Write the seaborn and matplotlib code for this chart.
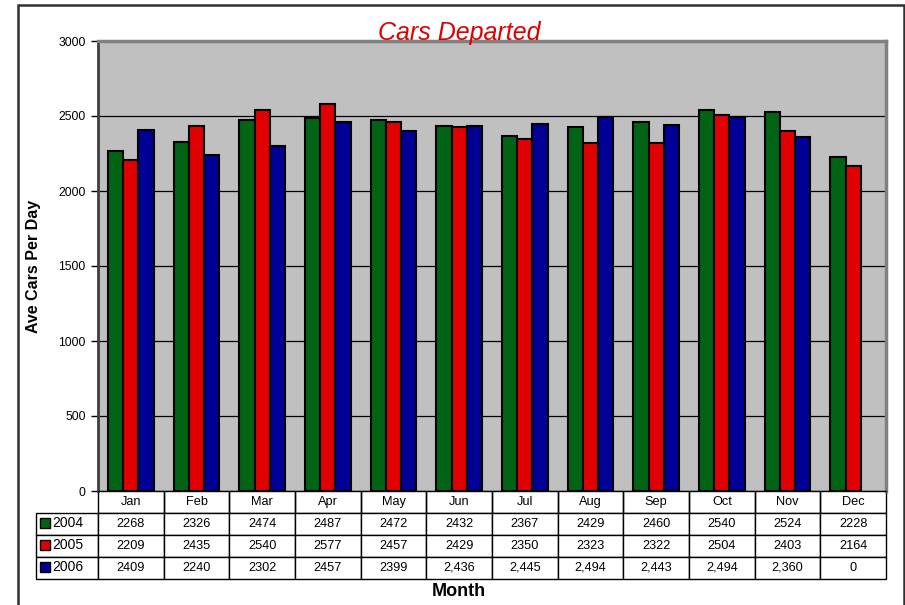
import numpy as np
import pandas as pd
import matplotlib
matplotlib.use('Agg')
import matplotlib.pyplot as plt
import matplotlib.patches as mpatches
import seaborn as sns

months = ['Jan', 'Feb', 'Mar', 'Apr', 'May', 'Jun', 'Jul', 'Aug', 'Sep', 'Oct', 'Nov', 'Dec']
years = ['2004', '2005', '2006']
cars_2004 = [2268, 2326, 2474, 2487, 2472, 2432, 2367, 2429, 2460, 2540, 2524, 2228]
cars_2005 = [2209, 2435, 2540, 2577, 2457, 2429, 2350, 2323, 2322, 2504, 2403, 2164]
cars_2006 = [2409, 2240, 2302, 2457, 2399, 2436, 2445, 2494, 2443, 2494, 2360, 0]
# the 2006 row of the table shows thousands separators for Jun-Nov
labels_2006 = ['2409', '2240', '2302', '2457', '2399', '2,436', '2,445', '2,494',
               '2,443', '2,494', '2,360', '0']
colors = ['#006414', '#e00000', '#000096']

df = pd.DataFrame({
    'Month': months * 3,
    'Year': [y for y in years for _ in months],
    'Cars': cars_2004 + cars_2005 + cars_2006,
})
plot_df = df.copy()
plot_df.loc[plot_df['Cars'] == 0, 'Cars'] = np.nan

sns.set_style('white')
plt.rcParams['font.family'] = ['Liberation Sans', 'DejaVu Sans']
plt.rcParams['text.color'] = 'black'
plt.rcParams['axes.labelcolor'] = 'black'
plt.rcParams['ytick.color'] = 'black'

W, H = 905, 605
fig = plt.figure(figsize=(W / 100, H / 100), dpi=100)
x0, x1, ytop, ybot = 98, 886, 41, 491
ax = fig.add_axes([x0 / W, 1 - ybot / H, (x1 - x0) / W, (ybot - ytop) / H])
ax.set_facecolor('#c0c0c0')

sns.barplot(data=plot_df, x='Month', y='Cars', hue='Year', palette=colors, saturation=1,
            width=0.7, edgecolor='black', linewidth=1.5, legend=False, ax=ax)

ax.set_ylim(0, 3000)
ax.set_xlim(-0.5, 11.5)
ax.set_yticks(range(0, 3001, 500))
ax.yaxis.grid(True, color='black', linewidth=0.9)
ax.set_axisbelow(True)
ax.tick_params(axis='y', length=5, width=1, color='black', labelsize=8.8, pad=4, left=True)
ax.tick_params(axis='x', length=0, labelbottom=False)
ax.set_xlabel('')
ax.set_ylabel('Ave Cars Per Day', fontsize=11.5, fontweight='bold', labelpad=12)
for side in ['top', 'right']:
    ax.spines[side].set_color('#808080')
    ax.spines[side].set_linewidth(2.5)
ax.spines['left'].set_color('#404040')
ax.spines['left'].set_linewidth(2)
ax.spines['bottom'].set_color('black')
ax.spines['bottom'].set_linewidth(1)

# data table under the axis
tleft, tbot = 36, 579
cell_text = [[''] + months,
             [''] + [str(v) for v in cars_2004],
             [''] + [str(v) for v in cars_2005],
             [''] + labels_2006]
col_w = [62] + [(x1 - x0) / 12] * 12
tab = ax.table(cellText=cell_text, colWidths=[w / sum(col_w) for w in col_w],
               cellLoc='center',
               bbox=[(tleft - x0) / (x1 - x0), -(tbot - ybot) / (ybot - ytop),
                     (x1 - tleft) / (x1 - x0), (tbot - ybot) / (ybot - ytop)])
tab.auto_set_font_size(False)
tab.set_fontsize(9.2)
for (r, c), cell in tab.get_celld().items():
    cell.set_linewidth(1)
    cell.set_edgecolor('black')
    cell.set_facecolor('white')
    cell.get_text().set_color('black')
    if r == 0 and c == 0:
        cell.visible_edges = ''
        cell.set_facecolor('none')
    elif r == 0:
        cell.visible_edges = 'LRB'

row_y = [523, 545, 567]
for yr, col, yp in zip(years, colors, row_y):
    yf = -(yp - ybot) / (ybot - ytop)
    ax.add_patch(mpatches.Rectangle(((40 - x0) / (x1 - x0), yf - 5 / 450), 10 / (x1 - x0), 10 / 450,
                                    transform=ax.transAxes, facecolor=col, edgecolor='black',
                                    linewidth=1, clip_on=False, zorder=5))
    ax.text((52 - x0) / (x1 - x0), yf, yr, transform=ax.transAxes, fontsize=10,
            va='center', ha='left', zorder=5)

fig.text(459 / W, 1 - 40 / H, 'Cars Departed', color='#e00000', fontsize=18,
         fontstyle='italic', ha='center', va='baseline')
fig.text(459 / W, 1 - 591 / H, 'Month', fontsize=13, fontweight='bold',
         ha='center', va='center')

# outer frame
fig.patches.append(mpatches.Rectangle((18 / W, -0.02), (904 - 18) / W, 1 - 5 / H + 0.02,
                                      transform=fig.transFigure, fill=False,
                                      edgecolor='#303030', linewidth=1.8))

fig.savefig('out.png', dpi=100)
